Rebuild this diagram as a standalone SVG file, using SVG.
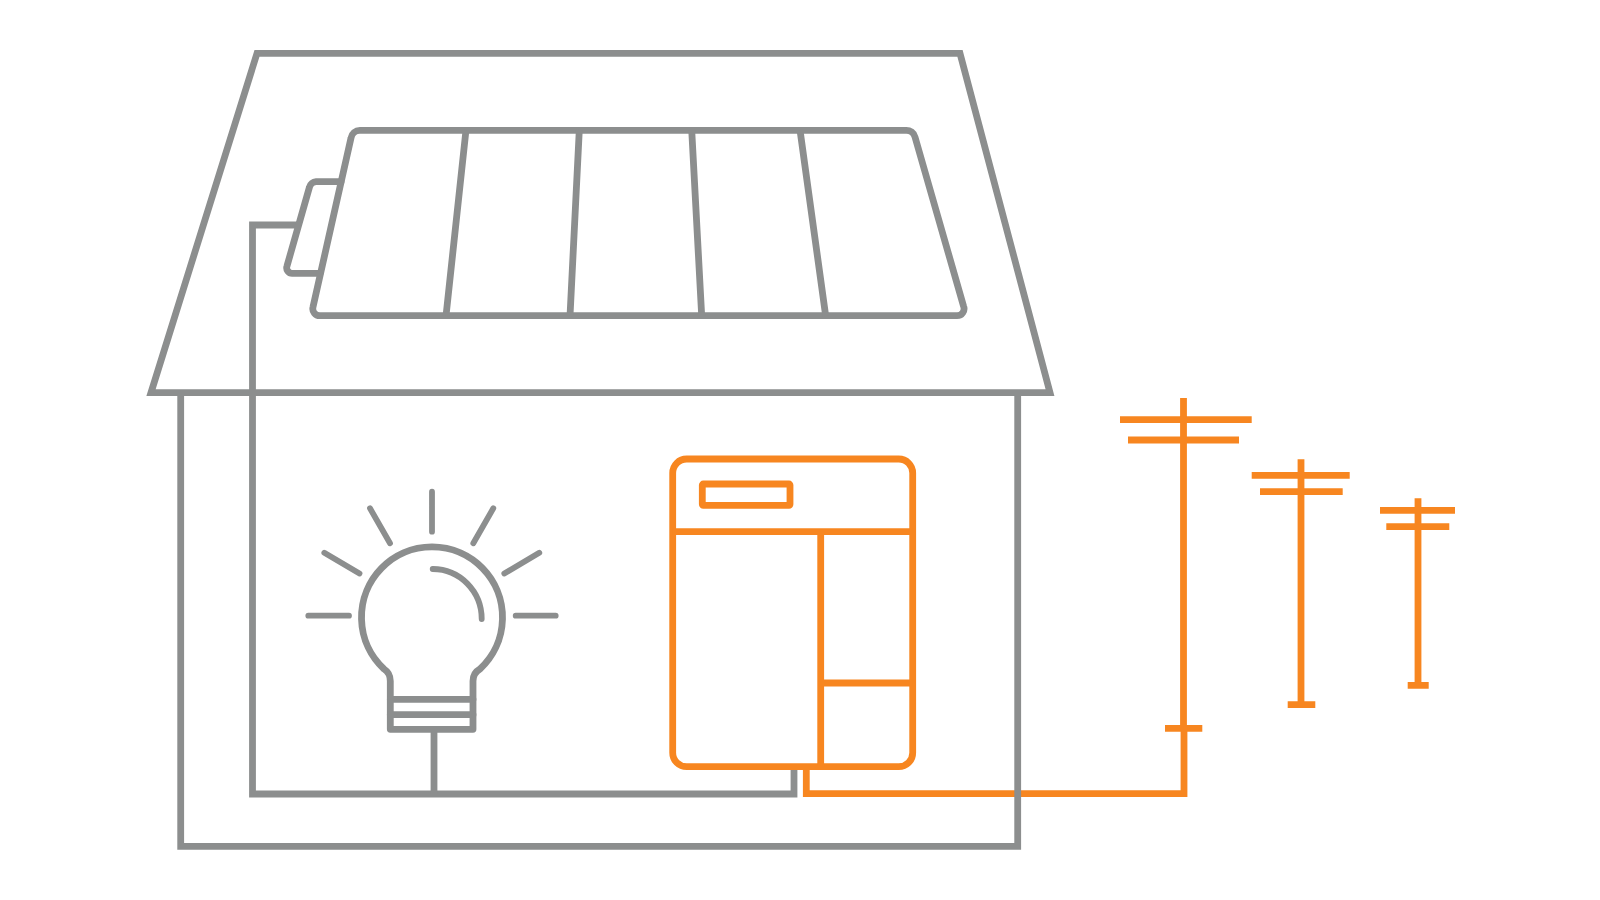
<svg xmlns="http://www.w3.org/2000/svg" width="1600" height="900" viewBox="0 0 1600 900">
<style>
.g{fill:none;stroke:#8c8e8e;stroke-width:6.8}
.o{fill:none;stroke:#f78620;stroke-width:6.8}
.r{stroke-linecap:round;stroke-linejoin:round}
.t{stroke-width:5.8}
</style>
<rect width="1600" height="900" fill="#fff"/>
<g id="connectors">
<path class="g" d="M297 225H252.500V794H794V767"/>
<path class="g" d="M434 729V794"/>
<path class="o" d="M806.300 767V793.700H1184V728"/>
</g>
<g id="house">
<path class="g" d="M257 53.300H960L1050 392.700H151Z"/>
<path class="g" d="M180.700 393V846.300H1017.700V393"/>
</g>
<g id="solar-panel">
<path class="g r" d="M360 130.300H906A9 9 0 0 1 915 137L963.500 306A7 7 0 0 1 957 315.700H320A7 7 0 0 1 313 307L351 138A9 9 0 0 1 360 130.300Z"/>
<path class="g r" d="M341 181.700H316A7 7 0 0 0 309.500 187L287 266A5.500 5.500 0 0 0 292.500 273.300H320"/>
<path class="g" d="M466 130L446 316M579.300 130L570 316M691.700 130L701.700 316M800 130L825.700 316"/>
</g>
<g id="bulb" class="r">
<path class="g" d="M390.300 729.300V681Q390.300 673 384 669A70.500 70.500 0 1 1 480 669Q473 673 473 681V729.300Z"/>
<path class="g" d="M390.300 699.300H473M390.300 714.700H473"/>
<path class="g t" d="M432.700 569A49 50 0 0 1 481.700 619"/>
<path class="g t" d="M432 491.700V531.700M370 508.300L390 543.300M324.300 552.700L359.500 573.500M308.300 615.700H349M515.700 615.700H555.700M539.300 552.700L504.300 573.500M493.300 508.300L473.300 543.300"/>
</g>
<g id="battery">
<rect class="o" x="672.700" y="459" width="240" height="307.700" rx="14"/>
<rect class="o" x="702.300" y="484" width="87.700" height="21.300" rx="1" stroke-linejoin="round"/>
<path class="o" d="M672.700 531.700H912.700M820.700 531.700V766.700M820.700 683H912.700"/>
</g>
<g id="pole-1">
<path class="o" d="M1183.500 398V728M1120 419.700H1251.700M1128 440H1239M1165 728.300H1202.300"/>
</g>
<g id="pole-2">
<path class="o" d="M1301 459.300V704M1251.700 475.300H1349.700M1260 491.700H1342.700M1287.700 704.700H1315.300"/>
</g>
<g id="pole-3">
<path class="o" d="M1418 498.300V685M1380 510.300H1455M1386.300 526.700H1449.300M1407.700 685.300H1428.700"/>
</g>
</svg>
